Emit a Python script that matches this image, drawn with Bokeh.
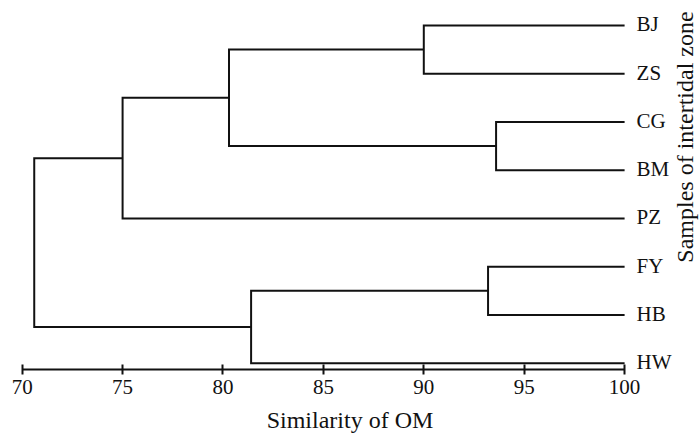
import math
from bokeh.plotting import figure
from bokeh.models import Range1d, LinearAxis, FixedTicker, ColumnDataSource, Label
from bokeh.core.properties import value
from bokeh.embed import file_html
from bokeh.resources import INLINE

# ---- data ----
leaves = ["BJ", "ZS", "CG", "BM", "PZ", "FY", "HB", "HW"]  # top to bottom
# merges: children are leaf indices (0..7) or previous merge ids (8 + k)
merge_a = [0, 2, 5, 8, 11, 10, 12]
merge_b = [1, 3, 6, 9, 4, 7, 13]
merge_h = [90.0, 93.6, 93.2, 80.3, 75.0, 81.4, 70.6]
tick_values = [70, 75, 80, 85, 90, 95, 100]
x_label = "Similarity of OM"
y_label = "Samples of intertidal zone"

FONT = "'Liberation Serif', 'Times New Roman', Times, serif"
n = len(leaves)
node_x = [100.0] * n
node_y = [float(n - 1 - i) for i in range(n)]
xs, ys = [], []
for a, b, h in zip(merge_a, merge_b, merge_h):
    xs.append([node_x[a], h, h, node_x[b]])
    ys.append([node_y[a], node_y[a], node_y[b], node_y[b]])
    node_x.append(h)
    node_y.append((node_y[a] + node_y[b]) / 2)

p = figure(frame_width=699, frame_height=369, output_backend="svg",
           toolbar_location=None,
           x_range=Range1d(68.92, 103.73), y_range=Range1d(-0.131, 7.518),
           x_axis_location=None, y_axis_location=None,
           min_border_left=0, min_border_right=0, min_border_top=0, min_border_bottom=0)
p.outline_line_color = None
p.xgrid.visible = False
p.ygrid.visible = False
p.background_fill_color = "white"

p.multi_line(xs=xs, ys=ys, line_color="#111111", line_width=2, line_join="miter")

src = ColumnDataSource(dict(x=[100.0] * n, y=node_y[:n], t=leaves))
p.text(x="x", y="y", text="t", source=src, x_offset=12, y_offset=-1,
       text_baseline="middle", text_align="left",
       text_font=value(FONT), text_font_size="21px", text_color="#111111")

ax = LinearAxis(ticker=FixedTicker(ticks=tick_values), bounds=(70, 100))
ax.axis_line_width = 2
ax.axis_line_color = "#111111"
ax.major_tick_line_width = 2
ax.major_tick_line_color = "#111111"
ax.major_tick_in = 5
ax.major_tick_out = 5
ax.minor_tick_line_color = None
ax.major_label_text_font = FONT
ax.major_label_text_font_size = "21px"
ax.major_label_text_color = "#111111"
ax.major_label_standoff = 5
ax.axis_label = x_label
ax.axis_label_text_font = FONT
ax.axis_label_text_font_size = "24px"
ax.axis_label_text_font_style = "normal"
ax.axis_label_text_color = "#111111"
ax.axis_label_standoff = 10
p.add_layout(ax, "below")

p.add_layout(Label(x=684, y=232.5, x_units="screen", y_units="screen",
                   text=y_label, angle=math.pi / 2,
                   text_align="center", text_baseline="middle",
                   text_font=FONT, text_font_size="24px", text_color="#111111"))

open("out.html", "w").write(file_html(p, INLINE))
